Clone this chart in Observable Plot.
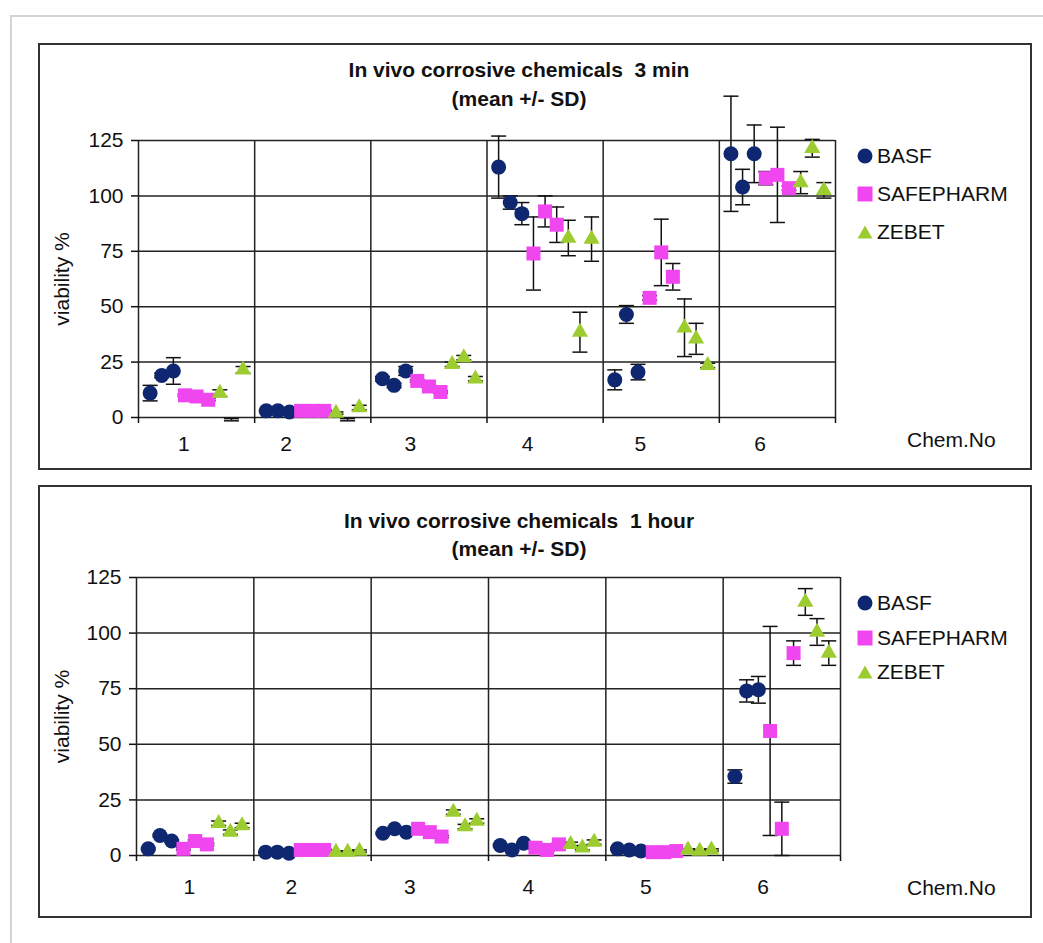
<!DOCTYPE html>
<html><head><meta charset="utf-8">
<script src="https://cdn.jsdelivr.net/npm/d3@7"></script>
<script src="https://cdn.jsdelivr.net/npm/@observablehq/plot@0.6"></script>
<style>
body{margin:0;background:#fff;font-family:"Liberation Sans",Arial,sans-serif;color:#111;}
.outer{position:absolute;left:10px;top:15px;width:1100px;height:1000px;border-left:2px solid #d4d4d4;border-top:2px solid #d4d4d4;}
.panel{position:absolute;left:38px;width:994px;}
.panel svg{position:absolute;left:0;top:0;overflow:visible;}
.frame{position:absolute;left:0;top:0;right:0;bottom:0;border:2px solid #333;box-sizing:border-box;pointer-events:none;}
.t{position:absolute;white-space:pre;font-size:21px;line-height:24px;color:#111;}
.title{font-weight:bold;text-align:center;width:600px;}
.sw{position:absolute;}
</style></head>
<body>
<div class="outer"></div>
<div id="p1" class="panel" style="top:43px;height:427px;"></div>
<div id="p2" class="panel" style="top:485px;height:433px;"></div>
<script>
// ---- data ----
const labs = ["BASF", "SAFEPHARM", "ZEBET"];
const labColors = ["#0f2770", "#f046f0", "#9ccc30"];
const chemLabels = ["1", "2", "3", "4", "5", "6"];
const yTicks = [0, 25, 50, 75, 100, 125];
const groupEdges = [0, 1, 2, 3, 4, 5, 6];

// 3 min: mean per lab -> per chemical -> 3 runs
const basf3min  = [[11, 19, 21], [3, 3, 2.5], [17.5, 14.5, 21], [113, 97, 92], [17, 46.5, 20.5], [119, 104, 119]];
const basf3minSD = [[3.5, 1, 6], [0.5, 0.5, 0.5], [1, 1, 2], [14, 3, 5], [4.5, 4, 3.5], [26, 8, 13]];
const safe3min  = [[10, 9.5, 8], [3, 3, 3], [16.5, 14, 11.5], [74, 93, 87], [54, 74.5, 63.5], [108, 109.5, 103.5]];
const safe3minSD = [[0.5, 0.5, 0.5], [0.3, 0.3, 0.3], [0.5, 0.5, 0.5], [16.5, 7, 8], [1, 15, 6], [3, 21.5, 1]];
const zebet3min = [[11, -1, 21.5], [2, -1, 4.5], [24, 27, 17.5], [81, 38.5, 80.5], [40.5, 35.5, 23.5], [106, 121.5, 102.5]];
const zebet3minSD = [[1.5, 0.5, 1.5], [0.5, 0.5, 1], [1, 1, 1], [8, 9, 10], [13, 7, 1], [5, 4, 3.5]];

// 1 hour
const basf1h  = [[3, 9, 6.5], [1.5, 1.5, 1], [10, 12, 10.5], [4.5, 2.5, 5.5], [3, 2.5, 2], [35.5, 74, 74.5]];
const basf1hSD = [[0.5, 0.5, 0.5], [0.3, 0.3, 0.3], [0.5, 0.5, 0.5], [0.5, 0.5, 0.5], [0.5, 0.5, 0.5], [3, 5, 6]];
const safe1h  = [[3, 6.5, 5], [2.5, 2.5, 2.5], [12, 10.5, 8.5], [3.5, 2.5, 5], [1.5, 1.5, 2], [56, 12, 91]];
const safe1hSD = [[0.5, 0.5, 0.5], [0.3, 0.3, 0.3], [0.5, 0.5, 0.5], [0.5, 0.5, 0.5], [0.5, 0.5, 0.5], [47, 12, 5.5]];
const zebet1h = [[14.5, 10.5, 13.5], [1.5, 1.5, 2], [19.5, 13, 15.5], [5, 3.5, 6], [2.5, 2, 2.5], [114, 100.5, 91]];
const zebet1hSD = [[1, 1, 1], [0.5, 0.5, 0.5], [1, 1, 1], [1, 1, 1], [0.5, 0.5, 0.5], [6, 6, 5.5]];

// tick label positions (chemical axis)
const labelPos3min = [0.39, 1.27, 2.34, 3.35, 4.32, 5.35];
const labelPos1h = [0.45, 1.32, 2.33, 3.34, 4.34, 5.34];

// ---- build ----
const capSymbol = {draw(ctx) { ctx.moveTo(-7.5, 0); ctx.lineTo(7.5, 0); }};
const symbols = ["circle", "square", "triangle"];
const radii = [7.5, 7.9, 6];

function rowsFor(means, sds) {
  const rows = [];
  labs.forEach((lab, li) => {
    means[li].forEach((runs, ci) => runs.forEach((v, k) => {
      rows.push({lab, li, pos: ci + (li * 3 + k + 1) / 10, v, sd: sds[li][ci][k]});
    }));
  });
  return rows;
}

function buildPanel(el, cfg) {
  const rows = rowsFor(cfg.means, cfg.sds);
  const caps = rows.flatMap(d => [{pos: d.pos, y: d.v - d.sd}, {pos: d.pos, y: d.v + d.sd}]);
  const ink = "#111";
  const chart = Plot.plot({
    width: 994, height: cfg.height,
    marginLeft: cfg.ml, marginRight: cfg.mr, marginTop: cfg.mt, marginBottom: cfg.mb,
    style: {fontSize: "21px", fontFamily: "Liberation Sans, Arial, sans-serif", color: ink, background: "transparent", overflow: "visible"},
    x: {domain: [0, 6]},
    y: {domain: [0, 125]},
    marks: [
      Plot.ruleY(yTicks, {stroke: "#222", strokeWidth: 1.5}),
      Plot.ruleX(groupEdges, {y1: 0, y2: 125, stroke: "#222", strokeWidth: 1.5}),
      Plot.axisY({ticks: yTicks, tickSize: 7, tickPadding: 8, strokeWidth: 1.5, label: "viability %", labelAnchor: "center", labelOffset: cfg.lo, labelArrow: "none"}),
      Plot.axisX({ticks: groupEdges, tickSize: 6, strokeWidth: 1.5, tickFormat: () => "", label: null}),
      Plot.axisX({ticks: cfg.labelPos, tickSize: 0, tickPadding: cfg.tp, tickFormat: d => chemLabels[cfg.labelPos.indexOf(d)], label: null}),
      Plot.ruleX(rows, {x: "pos", y1: d => d.v - d.sd, y2: d => d.v + d.sd, stroke: ink, strokeWidth: 1.5}),
      Plot.dot(caps, {x: "pos", y: "y", symbol: capSymbol, stroke: ink, strokeWidth: 1.5, fill: "none"}),
      ...labs.map((lab, li) => Plot.dot(rows.filter(d => d.li === li && d.v >= 0), {
        x: "pos", y: "v", symbol: symbols[li], r: radii[li], fill: labColors[li], stroke: "none"
      }))
    ]
  });
  el.appendChild(chart);

  const add = (html, cls, left, top) => {
    const d = document.createElement("div");
    d.className = cls;
    d.style.left = left + "px";
    d.style.top = top + "px";
    d.textContent = html;
    el.appendChild(d);
    return d;
  };
  add(cfg.title, "t title", cfg.tcx - 300, cfg.ty);
  add("(mean +/- SD)", "t title", cfg.tcx - 300, cfg.sy);
  // legend
  const shapes = [
    c => `<circle cx="8" cy="8" r="7.5" fill="${c}"/>`,
    c => `<rect x="0.5" y="0.5" width="15" height="15" fill="${c}"/>`,
    c => `<path d="M8,1.5 L15.5,14.5 L0.5,14.5Z" fill="${c}"/>`
  ];
  labs.forEach((lab, li) => {
    const cy = cfg.legY[li];
    const s = document.createElement("div");
    s.className = "sw";
    s.style.left = (857 - 38) + "px";
    s.style.top = (cy - 8) + "px";
    s.innerHTML = `<svg width="16" height="16" style="position:static">${shapes[li](labColors[li])}</svg>`;
    el.appendChild(s);
    add(lab, "t", 877 - 38, cy - 12);
  });
  add("Chem.No", "t", 907 - 38, cfg.chemY - 12);
  const f = document.createElement("div");
  f.className = "frame";
  el.appendChild(f);
}

buildPanel(document.getElementById("p1"), {
  means: [basf3min, safe3min, zebet3min], sds: [basf3minSD, safe3minSD, zebet3minSD],
  height: 427, ml: 100, mr: 197, mt: 97, mb: 53, lo: 84, tp: 19,
  labelPos: labelPos3min,
  title: "In vivo corrosive chemicals  3 min", tcx: 519 - 38, ty: 70 - 43 - 12, sy: 98.5 - 43 - 12,
  legY: [156 - 43, 194 - 43, 232 - 43], chemY: 440 - 43
});
buildPanel(document.getElementById("p2"), {
  means: [basf1h, safe1h, zebet1h], sds: [basf1hSD, safe1hSD, zebet1hSD],
  height: 433, ml: 98, mr: 192, mt: 92, mb: 63, lo: 82, tp: 24,
  labelPos: labelPos1h,
  title: "In vivo corrosive chemicals  1 hour", tcx: 519 - 38, ty: 521 - 485 - 12, sy: 549 - 485 - 12,
  legY: [603 - 485, 638 - 485, 672 - 485], chemY: 888 - 485
});
</script>
</body></html>
